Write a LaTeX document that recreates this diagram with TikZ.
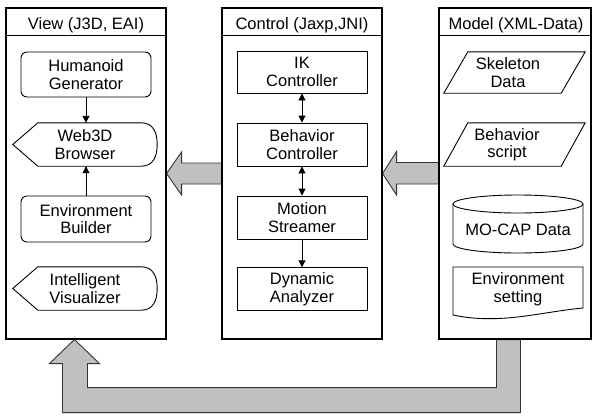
\documentclass[tikz,border=0pt]{standalone}
\usepackage{fontspec}
\setmainfont{Liberation Sans}
\usetikzlibrary{arrows.meta,calc,backgrounds}
\definecolor{arrowgray}{RGB}{192,192,192}
\begin{document}
\begin{tikzpicture}[x=1pt,y=-1pt,
  every node/.style={font=\fontsize{16.5}{17.5}\selectfont, align=center, inner sep=0pt},
  panel/.style={draw, line width=1.1pt, minimum width=160pt, minimum height=331pt},
  paneltitle/.style={anchor=base},
  rbox/.style={draw, line width=0.9pt, rounded corners=6pt, minimum width=130pt, minimum height=45pt},
  sbox/.style={draw, line width=0.9pt, minimum width=130pt, minimum height=42.5pt},
  shapebox/.style={minimum width=144pt, minimum height=43pt},
  outline/.style={draw, line width=0.9pt},
  link/.style={line width=0.9pt, -{Triangle[length=7pt,width=7pt]}},
  dlink/.style={line width=0.9pt, {Triangle[length=7pt,width=7pt]}-{Triangle[length=7pt,width=7pt]}},
  blockarrow/.style={fill=arrowgray, draw=black!80, line width=0.9pt}
]
\useasboundingbox (0,0) rectangle (592,416);

% panels
\node[panel] (view) at (86,173.5) {};
\node[panel] (ctrl) at (302,173.5) {};
\node[panel, minimum width=152pt] (model) at (515,173.5) {};
\foreach \p in {view,ctrl,model}{
  \draw[line width=1.1pt] ($(\p.north west)+(0,28)$) -- ($(\p.north east)+(0,28)$);
}
\node[paneltitle] (viewt) at ($(view.north)+(0,22.5)$) {View (J3D, EAI)};
\node[paneltitle] (ctrlt) at ($(ctrl.north)+(0,22.5)$) {Control (Jaxp,JNI)};
\node[paneltitle] (modelt) at ($(model.north)+(1,22.5)$) {Model (XML-Data)};

% view
\node[rbox] (hum) at (86,74.5) {Humanoid\\Generator};
\node[shapebox] (web) at (85,144.5) {Web3D\\Browser};
\node[rbox, minimum height=46pt] (env) at (86,219) {Environment\\Builder};
\node[shapebox] (vis) at (85,288.5) {Intelligent\\Visualizer};
\foreach \n in {web,vis}{
  \draw[outline] (\n.west) -- ($(\n.north west)+(25,0)$) -- ($(\n.north east)+(-16,0)$)
    .. controls ($(\n.north east)+(-4,0)$) and ($(\n.east)+(0,-12)$) .. (\n.east)
    .. controls ($(\n.east)+(0,12)$) and ($(\n.south east)+(-4,0)$) .. ($(\n.south east)+(-16,0)$)
    -- ($(\n.south west)+(25,0)$) -- cycle;
}
\draw[link] (hum.south) -- (hum.south |- web.north);
\draw[link] (env.north) -- (env.north |- web.south);

% control
\node[sbox, minimum height=42pt] (ik) at (302,72) {IK\\Controller};
\node[sbox, minimum height=43pt] (beh) at (302,144.5) {Behavior\\Controller};
\node[sbox, minimum height=43pt] (mot) at (302,217.5) {Motion\\Streamer};
\node[sbox] (dyn) at (302,289) {Dynamic\\Analyzer};
\draw[dlink] (ik) -- (beh);
\draw[dlink] (beh) -- (mot);
\draw[link] (mot) -- (dyn);

% model
\node[minimum width=141pt, minimum height=41pt] (skel) at (508,72.5) {Skeleton\\Data};
\node[minimum width=141pt, minimum height=43pt] (bscr) at (507,144.5) {Behavior\\script};
\draw[outline] ($(skel.north west)+(30.5,0)$) -- ($(skel.north east)+(6.5,0)$) -- ($(skel.south east)+(-17.5,0)$) -- ($(skel.south west)+(6.5,0)$) -- cycle;
\draw[outline] ($(bscr.north west)+(31.5,0)$) -- ($(bscr.north east)+(7.5,0)$) -- ($(bscr.south east)+(-16.5,0)$) -- ($(bscr.south west)+(7.5,0)$) -- cycle;

\node (mocap) at (518,230) {MO-CAP Data};
\draw[outline] ($(mocap.center)+(0,-26)$) ellipse [x radius=65pt, y radius=9pt];
\draw[outline] ($(mocap.center)+(-65,-26)$) -- ($(mocap.center)+(-65,14)$)
  .. controls ($(mocap.center)+(-65,19)$) and ($(mocap.center)+(-35.9,23)$) .. ($(mocap.center)+(0,23)$)
  .. controls ($(mocap.center)+(35.9,23)$) and ($(mocap.center)+(65,19)$) .. ($(mocap.center)+(65,14)$)
  -- ($(mocap.center)+(65,-26)$);

\node (envs) at (518,289) {Environment\\setting};
\draw[outline] ($(envs.center)+(-65,-22)$) -- ($(envs.center)+(65,-22)$) -- ($(envs.center)+(65,19)$)
  .. controls ($(envs.center)+(22,23)$) and ($(envs.center)+(-18,36)$) .. ($(envs.center)+(-65,26)$) -- cycle;

% block arrows
\begin{scope}[on background layer]
\draw[blockarrow] (view.east) -- ++(15,-21.5) -- ++(0,11) -- ($(ctrl.west)+(0,-10.5)$)
  -- ($(ctrl.west)+(0,10.5)$) -- ($(view.east)+(15,10.5)$) -- ++(0,11) -- cycle;
\draw[blockarrow] (ctrl.east) -- ++(14,-22) -- ++(0,11) -- ($(model.west)+(0,-11)$)
  -- ($(model.west)+(0,10.5)$) -- ($(ctrl.east)+(14,10.5)$) -- ++(0,11) -- cycle;
\coordinate (tip) at ($(view.south west)+(69,0)$);
\draw[blockarrow] (tip) -- ++(25,24) -- ++(-12,0) -- ++(0,24)
  -- ($(model.south west)+(58,48)$) -- ($(model.south west)+(58,0)$)
  -- ($(model.south west)+(82,0)$) -- ($(model.south west)+(82,73)$)
  -- ($(tip)+(-12,73)$) -- ($(tip)+(-12,24)$) -- ($(tip)+(-25,24)$) -- cycle;
\end{scope}
\end{tikzpicture}
\end{document}
